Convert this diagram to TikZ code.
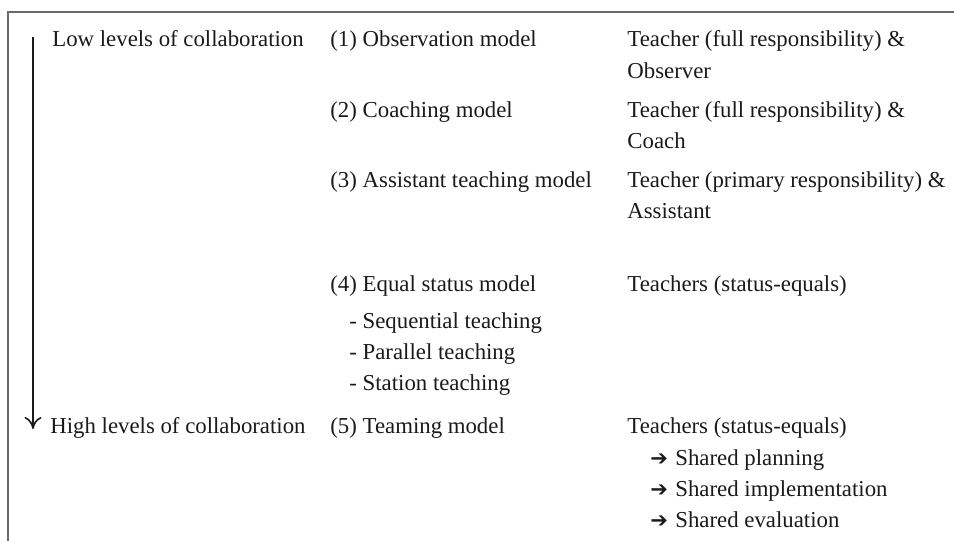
\documentclass[tikz,border=0pt]{standalone}
\usepackage{fontspec}
\setmainfont{Liberation Serif}
\newfontfamily\symfont{DejaVu Sans}
\usetikzlibrary{arrows.meta}
\definecolor{txtgray}{HTML}{1A1A1A}
\definecolor{framegray}{HTML}{6A6A6A}
\tikzset{
    cell/.style={anchor=base west, inner sep=0pt, text=txtgray, font=\fontsize{11.4}{14}\selectfont},
    subitem/.style={cell},
    shared/.style={cell, execute at begin node={\makebox[12.5pt][l]{\symfont\fontsize{10.5}{10}\selectfont ➔}}}
}
\begin{document}
\begin{tikzpicture}[x=0.5pt,y=-0.5pt]
        \useasboundingbox (0,0) rectangle (954,541);
        % frame
        \draw[framegray, line width=0.75pt] (8,541) -- (8,12) -- (954,12);
        % level labels
        \node[cell] (low) at (52,46) {Low levels of collaboration};
        \node[cell] (high) at (50,433) {High levels of collaboration};
        \coordinate (arrtop) at (33,37);
        \coordinate (arrbot) at (33,429);
        \draw[txtgray, line width=0.8pt, -{To[length=6pt,width=8.5pt]}] (arrtop) -- (arrbot);
        % models
        \node[cell] (m1) at (330,46) {(1) Observation model};
        \node[cell] (m2) at (330,117) {(2) Coaching model};
        \node[cell] (m3) at (330,187) {(3) Assistant teaching model};
        \node[cell] (m4) at (330,291) {(4) Equal status model};
        \node[subitem] (seq) at (349,328) {- Sequential teaching};
        \node[subitem] (par) at (349,359) {- Parallel teaching};
        \node[subitem] (sta) at (349,390) {- Station teaching};
        \node[cell] (m5) at (330,433) {(5) Teaming model};
        % roles
        \node[cell] (r1a) at (627,46) {Teacher (full responsibility) \&};
        \node[cell] (r1b) at (627,78) {Observer};
        \node[cell] (r2a) at (627,117) {Teacher (full responsibility) \&};
        \node[cell] (r2b) at (627,148) {Coach};
        \node[cell] (r3a) at (627,187) {Teacher (primary responsibility) \&};
        \node[cell] (r3b) at (627,218) {Assistant};
        \node[cell] (r4) at (627,291) {Teachers (status-equals)};
        \node[cell] (r5) at (627,433) {Teachers (status-equals)};
        \node[shared] (plan) at (650,465) {Shared planning};
        \node[shared] (impl) at (650,496) {Shared implementation};
        \node[shared] (eval) at (650,527) {Shared evaluation};
    \end{tikzpicture}
\end{document}
